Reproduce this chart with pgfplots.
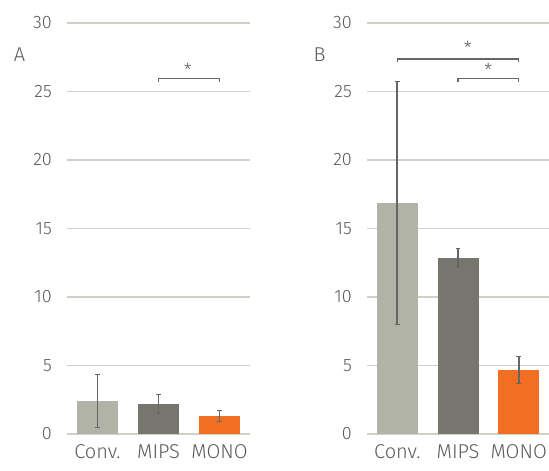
\documentclass[border=0pt]{standalone}
\usepackage{fontspec}
\setmainfont{Fira Sans Light}
\usepackage{pgfplots}
\pgfplotsset{compat=1.18}
\definecolor{conv}{HTML}{B2B3A7}
\definecolor{mips}{HTML}{76766E}
\definecolor{mono}{HTML}{F26E22}
\definecolor{gridc}{HTML}{D0D0C8}
\definecolor{txt}{HTML}{595959}
\definecolor{errc}{HTML}{666666}
\pgfplotsset{
  panel/.style={
    scale only axis, height=411pt,
    xmin=-0.5, xmax=2.5, ymin=0, ymax=30,
    axis line style={draw=none}, tick style={draw=none},
    ymajorgrids, grid style={gridc, line width=1.2pt},
    xtick={0,1,2}, xticklabels={Conv.,MIPS,MONO},
    ytick={0,5,10,15,20,25,30},
    /pgf/number format/assume math mode=true,
    yticklabel style={txt, anchor=east, inner sep=0pt, xshift=-15pt, font=\fontsize{18}{18}\selectfont},
    xticklabel style={txt, anchor=north, inner sep=0pt, yshift=-10pt, font=\fontsize{20}{20}\selectfont},
    clip=false,
  },
  barp/.style={ybar, bar width=41pt, bar shift=0pt, fill=#1, draw=none,
    error bars/.cd, y dir=both, y explicit,
    error bar style={errc, line width=1.7pt},
    error mark options={errc, rotate=90, mark size=2.2pt, line width=1.5pt}},
  brk/.style={errc, line width=1.1pt, mark=none},
}
\begin{document}
\begin{tikzpicture}
\useasboundingbox (0,0) rectangle (549pt,471pt);
\node[txt, font=\fontsize{20}{20}\selectfont] at (19.5pt,416pt) {A};
\node[txt, font=\fontsize{20}{20}\selectfont] at (319.5pt,416pt) {B};
\begin{axis}[panel, width=183pt, at={(67pt,37pt)}, anchor=south west]
\addplot[barp=conv] coordinates {(0,2.41) +- (0,1.92)};
\addplot[barp=mips] coordinates {(1,2.19) +- (0,0.70)};
\addplot[barp=mono] coordinates {(2,1.31) +- (0,0.39)};
\addplot[brk] coordinates {(1,25.72) (1,25.93) (2,25.93) (2,25.72)};
\node[txt, font=\fontsize{18}{18}\selectfont] at (axis cs:1.48,26.6) {*};
\end{axis}
\begin{axis}[panel, width=182pt, at={(367pt,37pt)}, anchor=south west]
\addplot[barp=conv] coordinates {(0,16.86) +- (0,8.87)};
\addplot[barp=mips] coordinates {(1,12.85) +- (0,0.68)};
\addplot[barp=mono] coordinates {(2,4.67) +- (0,0.97)};
\addplot[brk] coordinates {(0,27.15) (0,27.37) (2,27.37) (2,27.15)};
\addplot[brk] coordinates {(1,25.72) (1,25.93) (2,25.93) (2,25.72)};
\node[txt, font=\fontsize{18}{18}\selectfont] at (axis cs:1.16,28.15) {*};
\node[txt, font=\fontsize{18}{18}\selectfont] at (axis cs:1.5,26.6) {*};
\end{axis}
\end{tikzpicture}
\end{document}
